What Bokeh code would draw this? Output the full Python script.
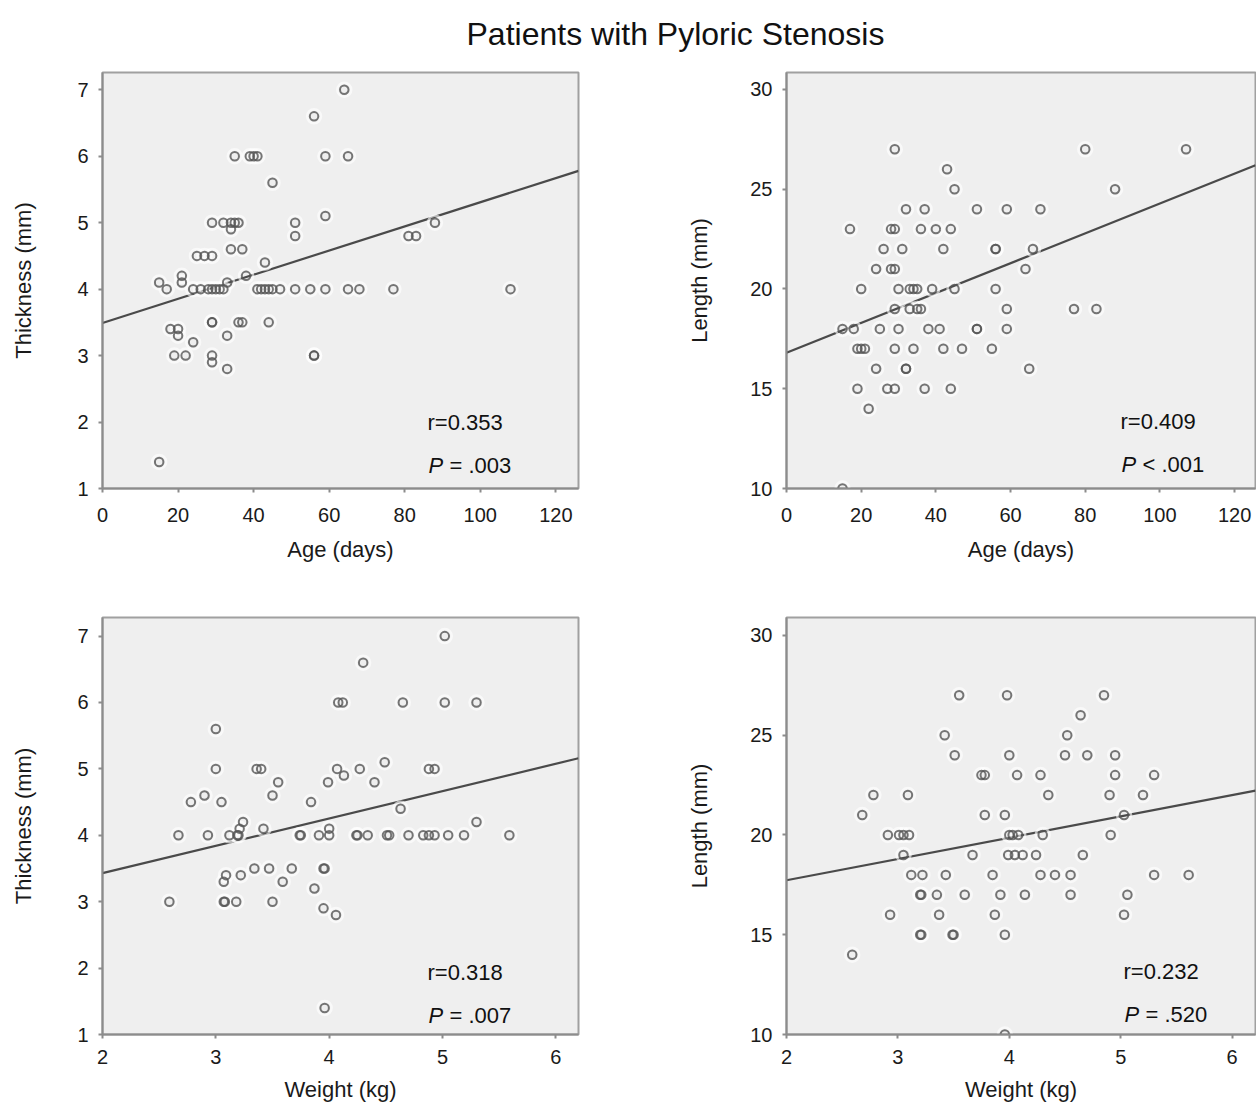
from bokeh.plotting import figure
from bokeh.models import Range1d, FixedTicker, Label
from bokeh.layouts import column, row
from bokeh.embed import file_html
from bokeh.resources import INLINE

FONT = "Liberation Sans"

# ---------------- data ----------------
title_text = "Patients with Pyloric Stenosis"

# Panel A: Age (days) vs Thickness (mm)
a_age = [64, 56, 35, 39, 40, 41, 59, 65, 45,
         29, 32, 34, 35, 36, 34, 51, 51, 59, 88, 81, 83,
         34, 37, 25, 27, 29, 43, 38, 21, 21, 15, 17,
         24, 26, 28, 29, 30, 31, 32, 33,
         41, 42, 43, 44, 45, 47, 51, 55, 59, 65, 68, 77, 108,
         29, 29, 36, 37, 44, 18, 20, 20, 24, 33,
         19, 22, 29, 29, 33, 56, 56, 15]
a_thick = [7.0, 6.6, 6.0, 6.0, 6.0, 6.0, 6.0, 6.0, 5.6,
           5.0, 5.0, 5.0, 5.0, 5.0, 4.9, 5.0, 4.8, 5.1, 5.0, 4.8, 4.8,
           4.6, 4.6, 4.5, 4.5, 4.5, 4.4, 4.2, 4.2, 4.1, 4.1, 4.0,
           4.0, 4.0, 4.0, 4.0, 4.0, 4.0, 4.0, 4.1,
           4.0, 4.0, 4.0, 4.0, 4.0, 4.0, 4.0, 4.0, 4.0, 4.0, 4.0, 4.0, 4.0,
           3.5, 3.5, 3.5, 3.5, 3.5, 3.4, 3.4, 3.3, 3.2, 3.3,
           3.0, 3.0, 3.0, 2.9, 2.8, 3.0, 3.0, 1.4]
a_fit_x = [0, 126]
a_fit_y = [3.49, 5.78]

# Panel B: Age (days) vs Length (mm)
b_age = [29, 80, 107, 43, 45, 88,
         32, 37, 51, 59, 68,
         17, 28, 29, 36, 40, 44,
         26, 31, 42, 56, 56, 66,
         24, 28, 29, 64,
         20, 30, 33, 34, 35, 39, 45, 56,
         29, 33, 35, 36, 59, 77, 83,
         15, 18, 25, 30, 38, 41, 51, 51, 59,
         19, 20, 21, 29, 34, 42, 47, 55,
         24, 32, 32, 65,
         19, 27, 29, 37, 44,
         22, 15]
b_len = [27, 27, 27, 26, 25, 25,
         24, 24, 24, 24, 24,
         23, 23, 23, 23, 23, 23,
         22, 22, 22, 22, 22, 22,
         21, 21, 21, 21,
         20, 20, 20, 20, 20, 20, 20, 20,
         19, 19, 19, 19, 19, 19, 19,
         18, 18, 18, 18, 18, 18, 18, 18, 18,
         17, 17, 17, 17, 17, 17, 17, 17,
         16, 16, 16, 16,
         15, 15, 15, 15, 15,
         14, 10]
b_fit_x = [0, 125.6]
b_fit_y = [16.8, 26.2]

# Panel C: Weight (kg) vs Thickness (mm)
c_wt = [5.02, 4.30, 4.08, 4.12, 4.65, 5.02, 5.30, 3.00,
        3.00, 3.36, 3.40, 4.07, 4.27, 4.88, 4.93, 4.49, 4.13, 3.99, 4.40, 3.55,
        2.90, 3.50, 2.78, 3.05, 3.84, 4.63, 5.30, 3.24, 3.21, 3.42, 4.00,
        2.67, 2.93, 3.12, 3.19, 3.20, 3.74, 3.75, 3.91, 4.00, 4.24, 4.25, 4.34,
        4.51, 4.53, 4.70, 4.83, 4.88, 4.93, 5.05, 5.19, 5.59,
        3.34, 3.47, 3.67, 3.95, 3.96,
        3.09, 3.07, 3.22, 3.59, 3.87,
        2.59, 3.07, 3.08, 3.18, 3.50,
        3.95, 4.06, 3.96]
c_thick = [7.0, 6.6, 6.0, 6.0, 6.0, 6.0, 6.0, 5.6,
           5.0, 5.0, 5.0, 5.0, 5.0, 5.0, 5.0, 5.1, 4.9, 4.8, 4.8, 4.8,
           4.6, 4.6, 4.5, 4.5, 4.5, 4.4, 4.2, 4.2, 4.1, 4.1, 4.1,
           4.0, 4.0, 4.0, 4.0, 4.0, 4.0, 4.0, 4.0, 4.0, 4.0, 4.0, 4.0,
           4.0, 4.0, 4.0, 4.0, 4.0, 4.0, 4.0, 4.0, 4.0,
           3.5, 3.5, 3.5, 3.5, 3.5,
           3.4, 3.3, 3.4, 3.3, 3.2,
           3.0, 3.0, 3.0, 3.0, 3.0,
           2.9, 2.8, 1.4]
c_fit_x = [2, 6.2]
c_fit_y = [3.43, 5.16]

# Panel D: Weight (kg) vs Length (mm)
d_wt = [3.55, 3.98, 4.85,
        4.64,
        3.42, 4.52,
        3.51, 4.00, 4.50, 4.70, 4.95,
        3.75, 3.78, 4.07, 4.28, 4.95, 5.30,
        2.78, 3.09, 4.35, 4.90, 5.20,
        2.68, 3.78, 3.96, 5.03,
        2.91, 3.01, 3.05, 3.10, 4.00, 4.03, 4.08, 4.30, 4.91,
        3.05, 3.67, 3.99, 4.05, 4.12, 4.24, 4.66,
        3.12, 3.22, 3.43, 3.85, 4.28, 4.41, 4.55, 5.30, 5.61,
        3.20, 3.21, 3.35, 3.60, 3.92, 4.14, 4.55, 5.06,
        2.93, 3.37, 3.87, 5.03,
        3.20, 3.21, 3.49, 3.50, 3.96,
        2.59, 3.96]
d_len = [27, 27, 27,
         26,
         25, 25,
         24, 24, 24, 24, 24,
         23, 23, 23, 23, 23, 23,
         22, 22, 22, 22, 22,
         21, 21, 21, 21,
         20, 20, 20, 20, 20, 20, 20, 20, 20,
         19, 19, 19, 19, 19, 19, 19,
         18, 18, 18, 18, 18, 18, 18, 18, 18,
         17, 17, 17, 17, 17, 17, 17, 17,
         16, 16, 16, 16,
         15, 15, 15, 15, 15,
         14, 10]
d_fit_x = [2, 6.21]
d_fit_y = [17.73, 22.22]

age_ticks = [0, 20, 40, 60, 80, 100, 120]
weight_ticks = [2, 3, 4, 5, 6]
thick_ticks = [1, 2, 3, 4, 5, 6, 7]
len_ticks = [10, 15, 20, 25, 30]

stats = [("r=0.353", "= .003"), ("r=0.409", "< .001"),
         ("r=0.318", "= .007"), ("r=0.232", "= .520")]

# ---------------- drawing ----------------
AXIS_GRAY = "#8c8c8c"


def panel(x, y, fx, fy, xr, yr, xt, yt, xlabel, ylabel, stat,
          width, height, mb_left, mb_right, mb_top, mb_bottom,
          xl_standoff, xal_standoff, yal_standoff, r_pos, p_pos):
    p = figure(width=width, height=height, x_range=Range1d(*xr), y_range=Range1d(*yr),
               toolbar_location=None, output_backend="svg",
               min_border_left=mb_left, min_border_right=mb_right,
               min_border_top=mb_top, min_border_bottom=mb_bottom)
    p.background_fill_color = "#efefef"
    p.border_fill_color = "white"
    p.outline_line_color = "#a0a0a0"
    p.outline_line_width = 2
    p.grid.visible = False

    for ax in (p.xaxis[0], p.yaxis[0]):
        ax.axis_line_color = AXIS_GRAY
        ax.axis_line_width = 2
        ax.major_tick_line_color = AXIS_GRAY
        ax.major_tick_line_width = 2
        ax.major_tick_out = 4
        ax.major_tick_in = 0
        ax.minor_tick_line_color = None
        ax.major_label_text_font = FONT
        ax.major_label_text_font_size = "20px"
        ax.major_label_text_color = "#1a1a1a"
        ax.axis_label_text_font = FONT
        ax.axis_label_text_font_size = "22px"
        ax.axis_label_text_font_style = "normal"
        ax.axis_label_text_color = "#1a1a1a"

    p.xaxis.ticker = FixedTicker(ticks=xt)
    p.yaxis.ticker = FixedTicker(ticks=yt)
    p.xaxis.axis_label = xlabel
    p.yaxis.axis_label = ylabel
    p.xaxis.major_label_standoff = xl_standoff
    p.yaxis.major_label_standoff = 10
    p.xaxis.axis_label_standoff = xal_standoff
    p.yaxis.axis_label_standoff = yal_standoff

    p.line(fx, fy, line_color="#4a4a4a", line_width=2.2)
    p.scatter(x, y, size=14, marker="circle", fill_color=None,
              line_color="white", line_width=2.5, line_alpha=0.6)
    p.scatter(x, y, size=8.5, marker="circle", fill_color=None,
              line_color="#555555", line_width=2.0, line_alpha=0.8)

    r_text, p_text = stat
    p.add_layout(Label(x=r_pos[0], y=r_pos[1], x_units="screen", y_units="screen",
                       text=r_text, text_font=FONT, text_font_size="22px",
                       text_color="#111111", text_baseline="alphabetic"))
    p.add_layout(Label(x=p_pos[0], y=p_pos[1], x_units="screen", y_units="screen",
                       text="P", text_font=FONT, text_font_size="22px",
                       text_font_style="italic",
                       text_color="#111111", text_baseline="alphabetic"))
    p.add_layout(Label(x=p_pos[0] + 21, y=p_pos[1], x_units="screen", y_units="screen",
                       text=p_text, text_font=FONT, text_font_size="22px",
                       text_color="#111111", text_baseline="alphabetic"))
    return p


p1 = panel(a_age, a_thick, a_fit_x, a_fit_y, (0, 126), (1, 7.26), age_ticks, thick_ticks,
           "Age (days)", "Thickness (mm)", stats[0],
           684, 540, 102, 106, 12, 112, 15, 12, 38, (325, 66), (326, 23))
p2 = panel(b_age, b_len, b_fit_x, b_fit_y, (0, 125.6), (10, 30.85), age_ticks, len_ticks,
           "Age (days)", "Length (mm)", stats[1],
           572, 540, 102, 1, 12, 112, 15, 12, 35, (334, 67), (335, 24))
p3 = panel(c_wt, c_thick, c_fit_x, c_fit_y, (2, 6.2), (1, 7.28), weight_ticks, thick_ticks,
           "Weight (kg)", "Thickness (mm)", stats[2],
           684, 509, 102, 106, 17, 75, 11, 10, 38, (325, 62), (326, 19))
p4 = panel(d_wt, d_len, d_fit_x, d_fit_y, (2, 6.21), (10, 30.9), weight_ticks, len_ticks,
           "Weight (kg)", "Length (mm)", stats[3],
           572, 509, 102, 1, 17, 75, 11, 10, 35, (337, 63), (338, 20))

t = figure(width=1256, height=60, x_range=Range1d(0, 1), y_range=Range1d(0, 1),
           toolbar_location=None, output_backend="svg", min_border=0,
           x_axis_type=None, y_axis_type=None)
t.outline_line_color = None
t.grid.visible = False
t.add_layout(Label(x=675, y=27, x_units="screen", y_units="screen", text=title_text,
                   text_font=FONT, text_font_size="32px", text_color="#111111",
                   text_align="center", text_baseline="alphabetic"))

layout = column(t, row(p1, p2), row(p3, p4))
open("out.html", "w").write(file_html(layout, INLINE))
